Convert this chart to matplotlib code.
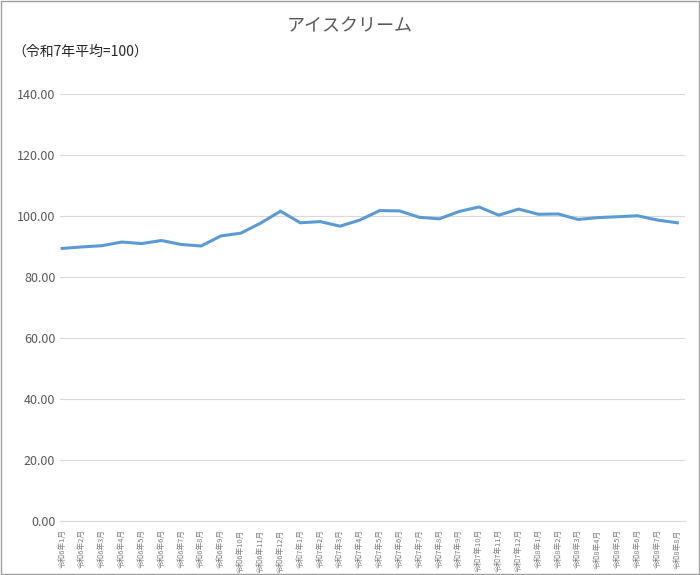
import matplotlib.pyplot as plt
from matplotlib.patches import Rectangle

plt.rcParams['font.family'] = ['Noto Sans CJK JP', 'DejaVu Sans']

months = ([f"令和6年{m}月" for m in range(1, 13)]
          + [f"令和7年{m}月" for m in range(1, 13)]
          + [f"令和8年{m}月" for m in range(1, 9)])
values = [89.3, 89.8, 90.2, 91.4, 90.9, 91.9, 90.6, 90.1, 93.4, 94.3, 97.6, 101.5,
          97.7, 98.1, 96.6, 98.6, 101.7, 101.6, 99.5, 99.0, 101.4, 102.9, 100.2, 102.2,
          100.5, 100.6, 98.8, 99.4, 99.7, 100.0, 98.6, 97.7]

fig = plt.figure(figsize=(7, 5.75), dpi=100)
ax = fig.add_axes([0.086, 0.094, 0.893, 0.743])
x = range(len(values))
ax.plot(x, values, color='#5B9BD5', linewidth=2.2)
ax.set_ylim(0, 140)
ax.set_yticks(range(0, 141, 20))
ax.set_yticklabels([f"{v:.2f}" for v in range(0, 141, 20)], fontsize=9, color='#595959')
ax.set_xlim(-0.1, len(values) - 0.6)
ax.set_xticks(list(x))
ax.set_xticklabels(months, rotation=90, fontsize=5.5, color='#7f7f7f',
                   ha='right', va='center', rotation_mode='anchor')
ax.grid(axis='y', color='#d9d9d9', linewidth=0.8)
ax.set_axisbelow(True)
for s in ['top', 'right', 'left']:
    ax.spines[s].set_visible(False)
ax.spines['bottom'].set_color('#d9d9d9')
ax.tick_params(length=0)
ax.tick_params(axis='x', pad=6)

fig.text(0.5, 0.955, "アイスクリーム", ha='center', va='center', fontsize=13, color='#595959')
fig.text(0.017, 0.91, "（令和7年平均=100）", ha='left', va='center', fontsize=10, color='#262626')
fig.add_artist(Rectangle((0.001, 0.001), 0.998, 0.998, transform=fig.transFigure,
                         fill=False, edgecolor='#a0a0a0', linewidth=1))

fig.savefig("out.png")
